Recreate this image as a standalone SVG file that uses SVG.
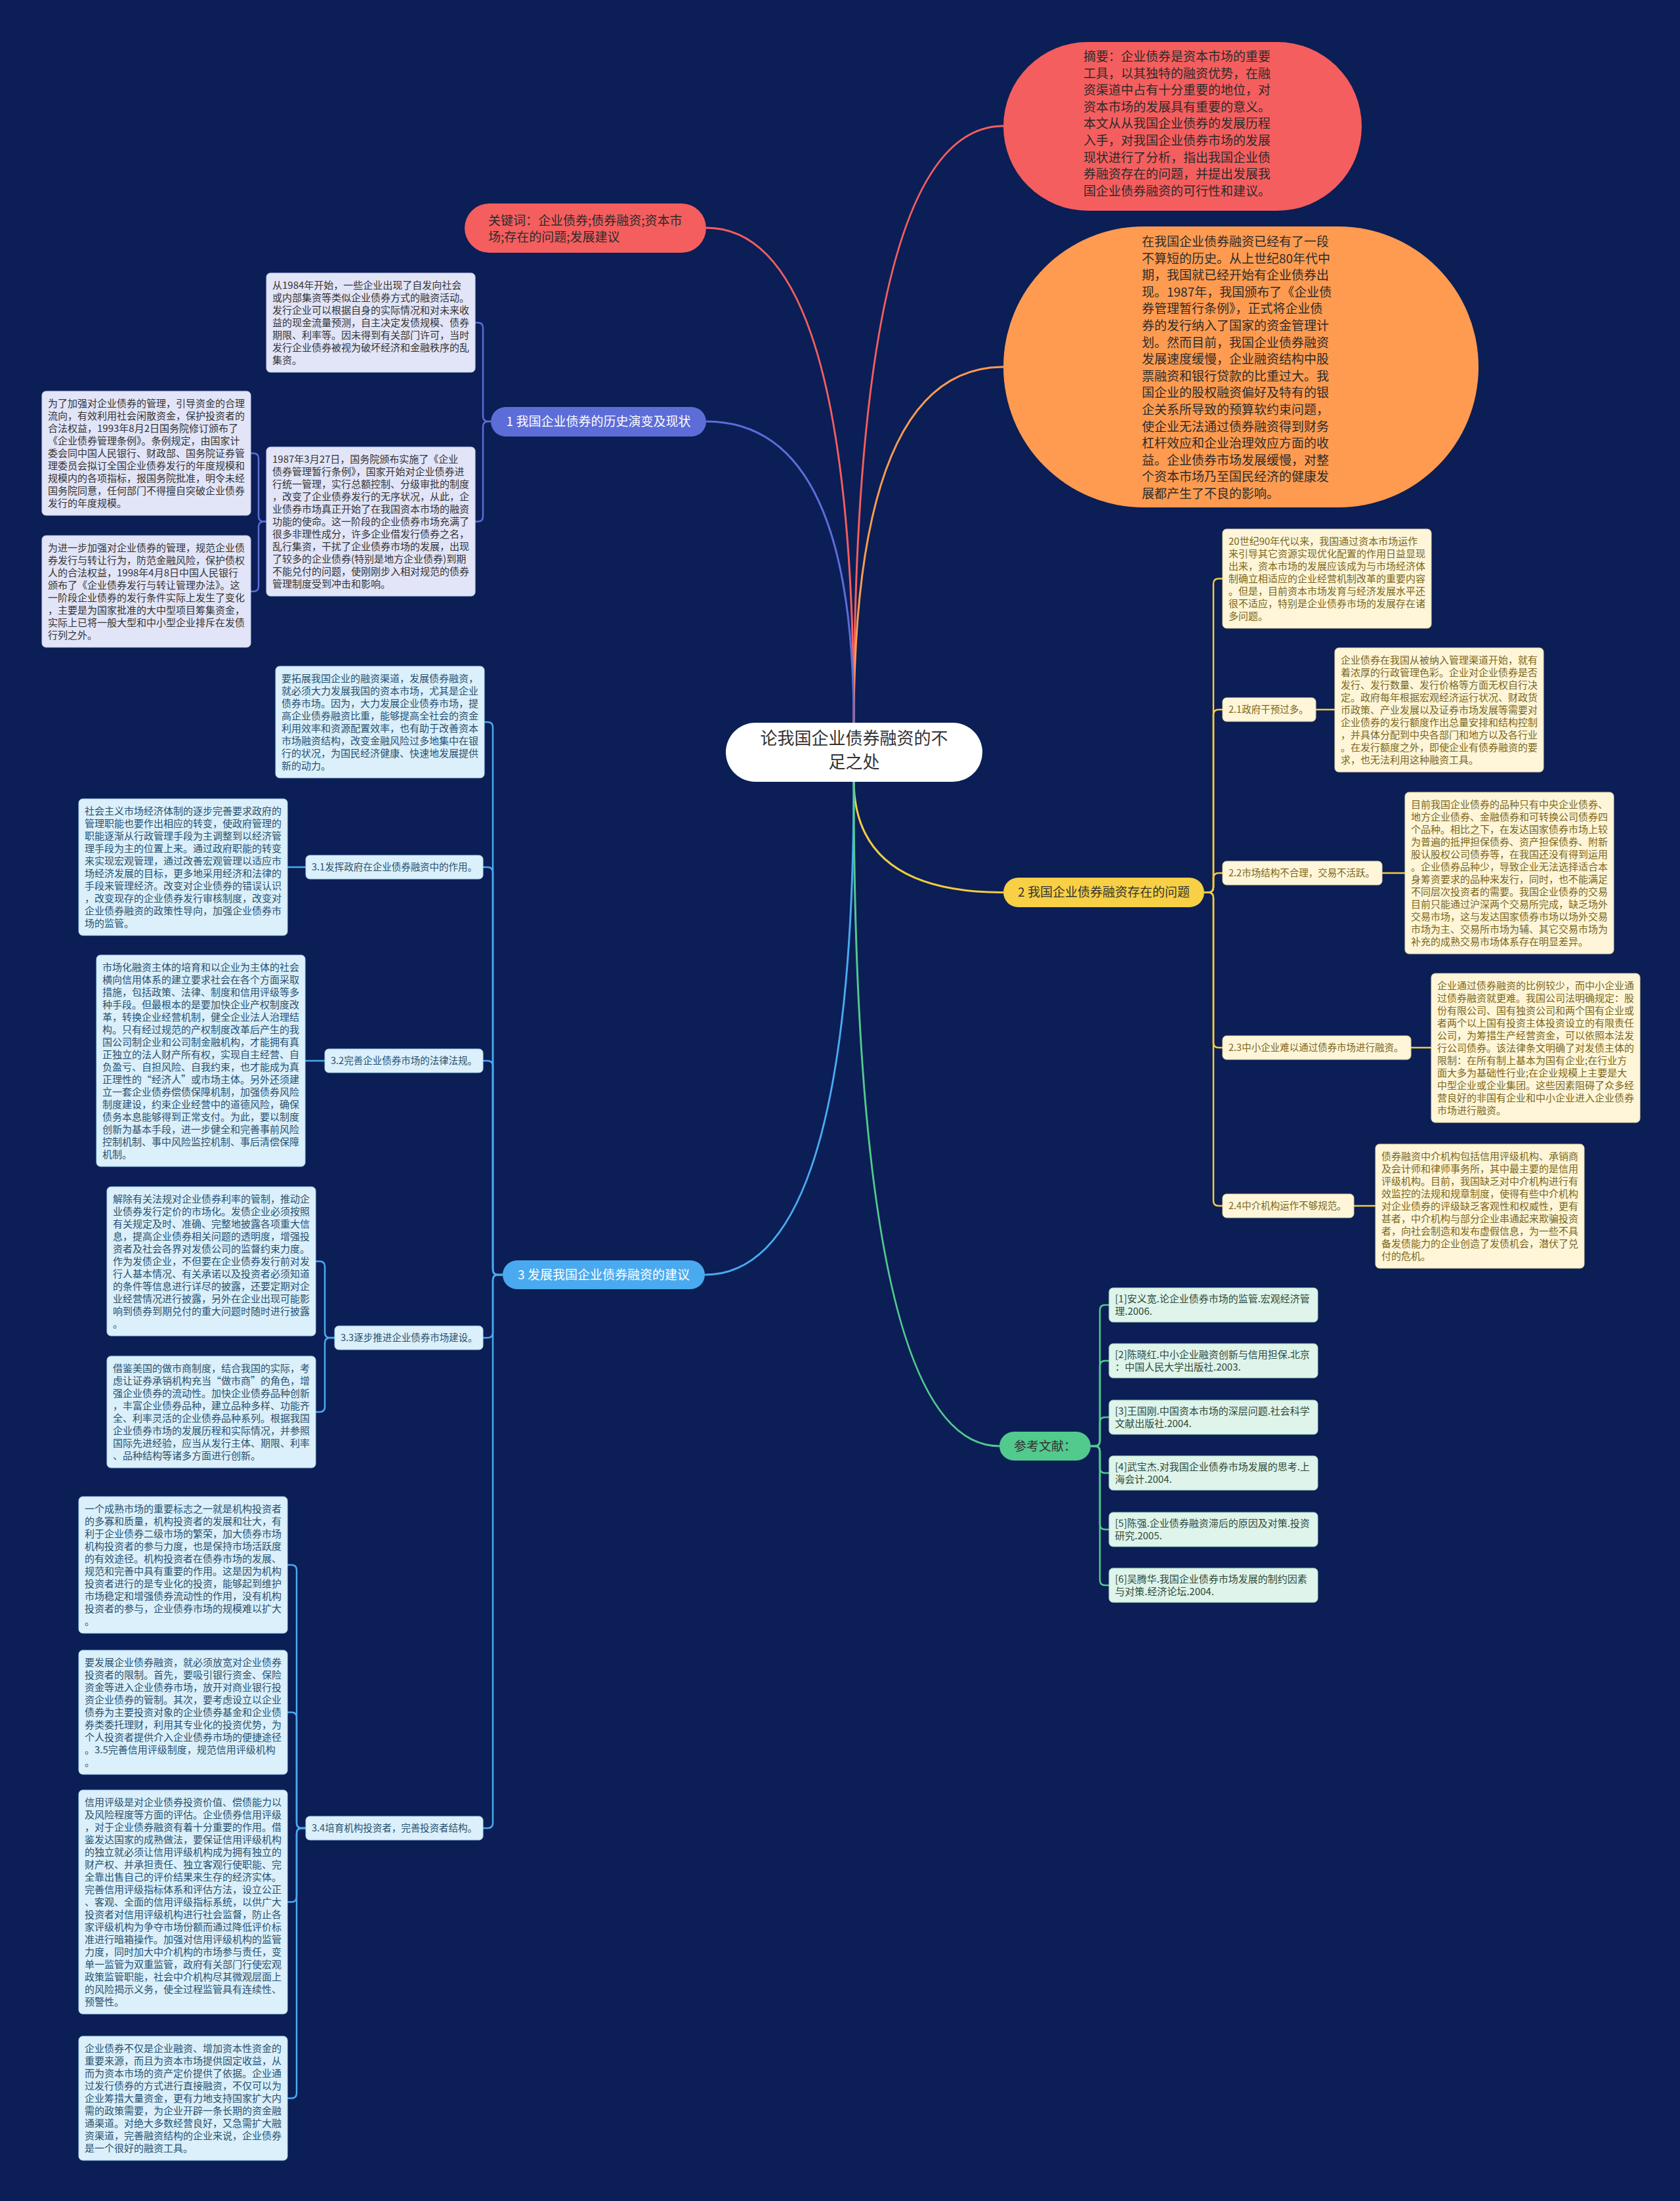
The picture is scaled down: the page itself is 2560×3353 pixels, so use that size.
<svg xmlns="http://www.w3.org/2000/svg" width="2560" height="3353" viewBox="0 0 2560 3353">
<style>
text{font-family:"Noto Sans CJK SC","Noto Sans",sans-serif;}
.main{fill:none;stroke-width:3;}
.sub{fill:none;stroke-width:2.5;}
.n15{font-size:15px;}
.lab{font-size:14.5px;}
.big{font-size:19px;}
.lav rect{fill:#E2E5F8;stroke:#C9CEF0;stroke-width:1;}
.lav text{fill:#333333;}
.yel rect{fill:#FFF6D9;stroke:#E8D9A0;stroke-width:1;}
.yel text{fill:#7A661C;}
.blu rect{fill:#DBF0FB;stroke:#A9D6F2;stroke-width:1;}
.blu text{fill:#28506F;}
.grn rect{fill:#DFF4EA;stroke:#ACDCC3;stroke-width:1;}
.grn text{fill:#2E4A3B;}
</style>
<rect x="0" y="0" width="2560" height="3353" fill="#0B1E56"/>

<g id="connectors">
<path class="main" stroke="#F55E5E" d="M 1301 1104 Q 1301 192 1529 192"/>
<path class="main" stroke="#FF9B50" d="M 1301 1104 Q 1301 559 1529 559"/>
<path class="main" stroke="#F55E5E" d="M 1301 1104 Q 1301 347 1076 347"/>
<path class="main" stroke="#5C6DD8" d="M 1301 1104 Q 1301 642 1076 642"/>
<path class="main" stroke="#F2CB3F" d="M 1301 1188 Q 1301 1359.5 1529 1359.5"/>
<path class="main" stroke="#4AAAF0" d="M 1301 1188 Q 1301 1942 1074 1942"/>
<path class="main" stroke="#52C98D" d="M 1301 1188 Q 1301 2203 1523 2203"/>

<g stroke="#5C6DD8" class="sub">
<path d="M 748 642 H 744 Q 736 642 736 634 V 499.5 Q 736 491.5 728 491.5 H 724"/>
<path d="M 748 642 H 744 Q 736 642 736 650 V 786.5 Q 736 794.5 728 794.5 H 724"/>
<path d="M 406 794.5 H 402 Q 394 794.5 394 786.5 V 698.5 Q 394 690.5 386 690.5 H 382"/>
<path d="M 406 794.5 H 402 Q 394 794.5 394 802.5 V 893 Q 394 901 386 901 H 382"/>
</g>
<g stroke="#F2CB3F" class="sub">
<path d="M 1835 1359.5 H 1841 Q 1849 1359.5 1849 1351.5 V 889.5 Q 1849 881.5 1857 881.5 H 1863"/>
<path d="M 1835 1359.5 H 1841 Q 1849 1359.5 1849 1351.5 V 1089 Q 1849 1081 1857 1081 H 1863"/>
<path d="M 1835 1359.5 H 1841 Q 1849 1359.5 1849 1351.5 V 1338 Q 1849 1330 1857 1330 H 1863"/>
<path d="M 1835 1359.5 H 1841 Q 1849 1359.5 1849 1367.5 V 1588 Q 1849 1596 1857 1596 H 1863"/>
<path d="M 1835 1359.5 H 1841 Q 1849 1359.5 1849 1367.5 V 1829 Q 1849 1837 1857 1837 H 1863"/>
<path d="M 2005 1081 H 2034"/>
<path d="M 2106 1330 H 2141"/>
<path d="M 2150 1596 H 2181"/>
<path d="M 2063 1837 H 2096"/>
</g>
<g stroke="#4AAAF0" class="sub">
<path d="M 766 1942 H 759 Q 751 1942 751 1934 V 1108 Q 751 1100 743 1100 H 738"/>
<path d="M 766 1942 H 759 Q 751 1942 751 1934 V 1329 Q 751 1321 743 1321 H 736"/>
<path d="M 766 1942 H 759 Q 751 1942 751 1934 V 1624 Q 751 1616 743 1616 H 736"/>
<path d="M 766 1942 H 759 Q 751 1942 751 1950 V 2030 Q 751 2038 743 2038 H 736"/>
<path d="M 766 1942 H 759 Q 751 1942 751 1950 V 2777 Q 751 2785 743 2785 H 736"/>
<path d="M 466 1321 H 438"/>
<path d="M 495 1616 H 465"/>
<path d="M 510 2038 H 503 Q 495 2038 495 2030 V 1929.5 Q 495 1921.5 487 1921.5 H 481"/>
<path d="M 510 2038 H 503 Q 495 2038 495 2046 V 2143 Q 495 2151 487 2151 H 481"/>
<path d="M 466 2785 H 460 Q 452 2785 452 2777 V 2392 Q 452 2384 444 2384 H 438"/>
<path d="M 466 2785 H 460 Q 452 2785 452 2777 V 2616.5 Q 452 2608.5 444 2608.5 H 438"/>
<path d="M 466 2785 H 460 Q 452 2785 452 2793 V 2889.5 Q 452 2897.5 444 2897.5 H 438"/>
<path d="M 466 2785 H 460 Q 452 2785 452 2793 V 3188.5 Q 452 3196.5 444 3196.5 H 438"/>
</g>
<g stroke="#52C98D" class="sub">
<path d="M 1662 2203 H 1668 Q 1676 2203 1676 2195 V 1996 Q 1676 1988 1684 1988 H 1690"/>
<path d="M 1662 2203 H 1668 Q 1676 2203 1676 2195 V 2081 Q 1676 2073 1684 2073 H 1690"/>
<path d="M 1662 2203 H 1668 Q 1676 2203 1676 2195 V 2167 Q 1676 2159 1684 2159 H 1690"/>
<path d="M 1662 2203 H 1668 Q 1676 2203 1676 2211 V 2236 Q 1676 2244 1684 2244 H 1690"/>
<path d="M 1662 2203 H 1668 Q 1676 2203 1676 2211 V 2322 Q 1676 2330 1684 2330 H 1690"/>
<path d="M 1662 2203 H 1668 Q 1676 2203 1676 2211 V 2407 Q 1676 2415 1684 2415 H 1690"/>
</g>
</g>

<g id="center">
<rect x="1106" y="1101" width="391" height="90" rx="45" fill="#FFFFFF"/>
<text x="1301.5" y="1134" font-size="26" text-anchor="middle" fill="#333333"><tspan x="1301.5">论我国企业债券融资的不</tspan><tspan x="1301.5" dy="36">足之处</tspan></text>
</g>

<g id="abstract">
<rect x="1529" y="64" width="546" height="257" rx="128.5" fill="#F55E5E"/>
<text class="big" x="1651" y="93" fill="#2B2B2B"><tspan x="1651">摘要：企业债券是资本市场的重要</tspan><tspan x="1651" dy="25.6">工具，以其独特的融资优势，在融</tspan><tspan x="1651" dy="25.6">资渠道中占有十分重要的地位，对</tspan><tspan x="1651" dy="25.6">资本市场的发展具有重要的意义。</tspan><tspan x="1651" dy="25.6">本文从从我国企业债券的发展历程</tspan><tspan x="1651" dy="25.6">入手，对我国企业债券市场的发展</tspan><tspan x="1651" dy="25.6">现状进行了分析，指出我国企业债</tspan><tspan x="1651" dy="25.6">券融资存在的问题，并提出发展我</tspan><tspan x="1651" dy="25.6">国企业债券融资的可行性和建议。</tspan></text>
</g>

<g id="intro">
<rect x="1529" y="345" width="724" height="428" rx="214" fill="#FF9B50"/>
<text class="big" x="1740" y="375" fill="#2B2B2B"><tspan x="1740">在我国企业债券融资已经有了一段</tspan><tspan x="1740" dy="25.6">不算短的历史。从上世纪80年代中</tspan><tspan x="1740" dy="25.6">期，我国就已经开始有企业债券出</tspan><tspan x="1740" dy="25.6">现。1987年，我国颁布了《企业债</tspan><tspan x="1740" dy="25.6">券管理暂行条例》，正式将企业债</tspan><tspan x="1740" dy="25.6">券的发行纳入了国家的资金管理计</tspan><tspan x="1740" dy="25.6">划。然而目前，我国企业债券融资</tspan><tspan x="1740" dy="25.6">发展速度缓慢，企业融资结构中股</tspan><tspan x="1740" dy="25.6">票融资和银行贷款的比重过大。我</tspan><tspan x="1740" dy="25.6">国企业的股权融资偏好及特有的银</tspan><tspan x="1740" dy="25.6">企关系所导致的预算软约束问题，</tspan><tspan x="1740" dy="25.6">使企业无法通过债券融资得到财务</tspan><tspan x="1740" dy="25.6">杠杆效应和企业治理效应方面的收</tspan><tspan x="1740" dy="25.6">益。企业债券市场发展缓慢，对整</tspan><tspan x="1740" dy="25.6">个资本市场乃至国民经济的健康发</tspan><tspan x="1740" dy="25.6">展都产生了不良的影响。</tspan></text>
</g>

<g id="keywords">
<rect x="708" y="310" width="368" height="75" rx="37.5" fill="#F55E5E"/>
<text class="big" x="744" y="343" fill="#2B2B2B"><tspan x="744">关键词：企业债券;债券融资;资本市</tspan><tspan x="744" dy="25">场;存在的问题;发展建议</tspan></text>
</g>

<g id="topic1">
<rect x="748" y="620" width="328" height="45" rx="22.5" fill="#5C6DD8"/>
<text class="big" x="912" y="649" text-anchor="middle" fill="#FFFFFF">1 我国企业债券的历史演变及现状</text>
</g>
<g id="t1-a" class="lav" transform="translate(406,416)">
<rect width="318" height="151" rx="6"/>
<text class="n15" x="9" y="24"><tspan x="9">从1984年开始，一些企业出现了自发向社会</tspan><tspan x="9" dy="19">或内部集资等类似企业债券方式的融资活动。</tspan><tspan x="9" dy="19">发行企业可以根据自身的实际情况和对未来收</tspan><tspan x="9" dy="19">益的现金流量预测，自主决定发债规模、债券</tspan><tspan x="9" dy="19">期限、利率等。因未得到有关部门许可，当时</tspan><tspan x="9" dy="19">发行企业债券被视为破坏经济和金融秩序的乱</tspan><tspan x="9" dy="19">集资。</tspan></text>
</g>
<g id="t1-b" class="lav" transform="translate(406,681)">
<rect width="318" height="227" rx="6"/>
<text class="n15" x="9" y="24"><tspan x="9">1987年3月27日，国务院颁布实施了《企业</tspan><tspan x="9" dy="19">债券管理暂行条例》，国家开始对企业债券进</tspan><tspan x="9" dy="19">行统一管理，实行总额控制、分级审批的制度</tspan><tspan x="9" dy="19">，改变了企业债券发行的无序状况，从此，企</tspan><tspan x="9" dy="19">业债券市场真正开始了在我国资本市场的融资</tspan><tspan x="9" dy="19">功能的使命。这一阶段的企业债券市场充满了</tspan><tspan x="9" dy="19">很多非理性成分，许多企业借发行债券之名，</tspan><tspan x="9" dy="19">乱行集资，干扰了企业债券市场的发展，出现</tspan><tspan x="9" dy="19">了较多的企业债券(特别是地方企业债券)到期</tspan><tspan x="9" dy="19">不能兑付的问题，使刚刚步入相对规范的债券</tspan><tspan x="9" dy="19">管理制度受到冲击和影响。</tspan></text>
</g>
<g id="t1-c" class="lav" transform="translate(64,596)">
<rect width="318" height="189" rx="6"/>
<text class="n15" x="9" y="24"><tspan x="9">为了加强对企业债券的管理，引导资金的合理</tspan><tspan x="9" dy="19">流向，有效利用社会闲散资金，保护投资者的</tspan><tspan x="9" dy="19">合法权益，1993年8月2日国务院修订颁布了</tspan><tspan x="9" dy="19">《企业债券管理条例》。条例规定，由国家计</tspan><tspan x="9" dy="19">委会同中国人民银行、财政部、国务院证券管</tspan><tspan x="9" dy="19">理委员会拟订全国企业债券发行的年度规模和</tspan><tspan x="9" dy="19">规模内的各项指标，报国务院批准，明令未经</tspan><tspan x="9" dy="19">国务院同意，任何部门不得擅自突破企业债券</tspan><tspan x="9" dy="19">发行的年度规模。</tspan></text>
</g>
<g id="t1-d" class="lav" transform="translate(64,816)">
<rect width="318" height="170" rx="6"/>
<text class="n15" x="9" y="24"><tspan x="9">为进一步加强对企业债券的管理，规范企业债</tspan><tspan x="9" dy="19">券发行与转让行为，防范金融风险，保护债权</tspan><tspan x="9" dy="19">人的合法权益，1998年4月8日中国人民银行</tspan><tspan x="9" dy="19">颁布了《企业债券发行与转让管理办法》。这</tspan><tspan x="9" dy="19">一阶段企业债券的发行条件实际上发生了变化</tspan><tspan x="9" dy="19">，主要是为国家批准的大中型项目筹集资金，</tspan><tspan x="9" dy="19">实际上已将一般大型和中小型企业排斥在发债</tspan><tspan x="9" dy="19">行列之外。</tspan></text>
</g>

<g id="topic2">
<rect x="1529" y="1337" width="306" height="45" rx="22.5" fill="#F7D046"/>
<text class="big" x="1682" y="1366" text-anchor="middle" fill="#333333">2 我国企业债券融资存在的问题</text>
</g>
<g id="t2-intro" class="yel" transform="translate(1863,806)">
<rect width="318" height="151" rx="6"/>
<text class="n15" x="9" y="24"><tspan x="9">20世纪90年代以来，我国通过资本市场运作</tspan><tspan x="9" dy="19">来引导其它资源实现优化配置的作用日益显现</tspan><tspan x="9" dy="19">出来，资本市场的发展应该成为与市场经济体</tspan><tspan x="9" dy="19">制确立相适应的企业经营机制改革的重要内容</tspan><tspan x="9" dy="19">。但是，目前资本市场发育与经济发展水平还</tspan><tspan x="9" dy="19">很不适应，特别是企业债券市场的发展存在诸</tspan><tspan x="9" dy="19">多问题。</tspan></text>
</g>
<g id="t2-1" class="yel" transform="translate(1863,1063)">
<rect width="142" height="36" rx="6"/>
<text class="lab" x="9" y="23">2.1政府干预过多。</text>
</g>
<g id="t2-1-note" class="yel" transform="translate(2034,987)">
<rect width="318" height="189" rx="6"/>
<text class="n15" x="9" y="24"><tspan x="9">企业债券在我国从被纳入管理渠道开始，就有</tspan><tspan x="9" dy="19">着浓厚的行政管理色彩。企业对企业债券是否</tspan><tspan x="9" dy="19">发行、发行数量、发行价格等方面无权自行决</tspan><tspan x="9" dy="19">定。政府每年根据宏观经济运行状况、财政货</tspan><tspan x="9" dy="19">币政策、产业发展以及证券市场发展等需要对</tspan><tspan x="9" dy="19">企业债券的发行额度作出总量安排和结构控制</tspan><tspan x="9" dy="19">，并具体分配到中央各部门和地方以及各行业</tspan><tspan x="9" dy="19">。在发行额度之外，即使企业有债券融资的要</tspan><tspan x="9" dy="19">求，也无法利用这种融资工具。</tspan></text>
</g>
<g id="t2-2" class="yel" transform="translate(1863,1312)">
<rect width="243" height="36" rx="6"/>
<text class="lab" x="9" y="23">2.2市场结构不合理，交易不活跃。</text>
</g>
<g id="t2-2-note" class="yel" transform="translate(2141,1207)">
<rect width="318" height="246" rx="6"/>
<text class="n15" x="9" y="24"><tspan x="9">目前我国企业债券的品种只有中央企业债券、</tspan><tspan x="9" dy="19">地方企业债券、金融债券和可转换公司债券四</tspan><tspan x="9" dy="19">个品种。相比之下，在发达国家债券市场上较</tspan><tspan x="9" dy="19">为普遍的抵押担保债券、资产担保债券、附新</tspan><tspan x="9" dy="19">股认股权公司债券等，在我国还没有得到运用</tspan><tspan x="9" dy="19">。企业债券品种少，导致企业无法选择适合本</tspan><tspan x="9" dy="19">身筹资要求的品种来发行，同时，也不能满足</tspan><tspan x="9" dy="19">不同层次投资者的需要。我国企业债券的交易</tspan><tspan x="9" dy="19">目前只能通过沪深两个交易所完成，缺乏场外</tspan><tspan x="9" dy="19">交易市场，这与发达国家债券市场以场外交易</tspan><tspan x="9" dy="19">市场为主、交易所市场为辅、其它交易市场为</tspan><tspan x="9" dy="19">补充的成熟交易市场体系存在明显差异。</tspan></text>
</g>
<g id="t2-3" class="yel" transform="translate(1863,1578)">
<rect width="287" height="36" rx="6"/>
<text class="lab" x="9" y="23">2.3中小企业难以通过债券市场进行融资。</text>
</g>
<g id="t2-3-note" class="yel" transform="translate(2181,1483)">
<rect width="318" height="227" rx="6"/>
<text class="n15" x="9" y="24"><tspan x="9">企业通过债券融资的比例较少，而中小企业通</tspan><tspan x="9" dy="19">过债券融资就更难。我国公司法明确规定：股</tspan><tspan x="9" dy="19">份有限公司、国有独资公司和两个国有企业或</tspan><tspan x="9" dy="19">者两个以上国有投资主体投资设立的有限责任</tspan><tspan x="9" dy="19">公司，为筹措生产经营资金，可以依照本法发</tspan><tspan x="9" dy="19">行公司债券。该法律条文明确了对发债主体的</tspan><tspan x="9" dy="19">限制：在所有制上基本为国有企业;在行业方</tspan><tspan x="9" dy="19">面大多为基础性行业;在企业规模上主要是大</tspan><tspan x="9" dy="19">中型企业或企业集团。这些因素阻碍了众多经</tspan><tspan x="9" dy="19">营良好的非国有企业和中小企业进入企业债券</tspan><tspan x="9" dy="19">市场进行融资。</tspan></text>
</g>
<g id="t2-4" class="yel" transform="translate(1863,1819)">
<rect width="200" height="36" rx="6"/>
<text class="lab" x="9" y="23">2.4中介机构运作不够规范。</text>
</g>
<g id="t2-4-note" class="yel" transform="translate(2096,1743)">
<rect width="318" height="189" rx="6"/>
<text class="n15" x="9" y="24"><tspan x="9">债券融资中介机构包括信用评级机构、承销商</tspan><tspan x="9" dy="19">及会计师和律师事务所，其中最主要的是信用</tspan><tspan x="9" dy="19">评级机构。目前，我国缺乏对中介机构进行有</tspan><tspan x="9" dy="19">效监控的法规和规章制度，使得有些中介机构</tspan><tspan x="9" dy="19">对企业债券的评级缺乏客观性和权威性，更有</tspan><tspan x="9" dy="19">甚者，中介机构与部分企业串通起来欺骗投资</tspan><tspan x="9" dy="19">者，向社会制造和发布虚假信息，为一些不具</tspan><tspan x="9" dy="19">备发债能力的企业创造了发债机会，潜伏了兑</tspan><tspan x="9" dy="19">付的危机。</tspan></text>
</g>

<g id="topic3">
<rect x="766" y="1920" width="308" height="44" rx="22" fill="#4AAAF0"/>
<text class="big" x="920" y="1949" text-anchor="middle" fill="#FFFFFF">3 发展我国企业债券融资的建议</text>
</g>
<g id="t3-intro" class="blu" transform="translate(420,1015)">
<rect width="318" height="170" rx="6"/>
<text class="n15" x="9" y="24"><tspan x="9">要拓展我国企业的融资渠道，发展债券融资，</tspan><tspan x="9" dy="19">就必须大力发展我国的资本市场，尤其是企业</tspan><tspan x="9" dy="19">债券市场。因为，大力发展企业债券市场，提</tspan><tspan x="9" dy="19">高企业债券融资比重，能够提高全社会的资金</tspan><tspan x="9" dy="19">利用效率和资源配置效率，也有助于改善资本</tspan><tspan x="9" dy="19">市场融资结构，改变金融风险过多地集中在银</tspan><tspan x="9" dy="19">行的状况，为国民经济健康、快速地发展提供</tspan><tspan x="9" dy="19">新的动力。</tspan></text>
</g>
<g id="t3-1" class="blu" transform="translate(466,1303)">
<rect width="270" height="36" rx="6"/>
<text class="lab" x="9" y="23">3.1发挥政府在企业债券融资中的作用。</text>
</g>
<g id="t3-1-note" class="blu" transform="translate(120,1217)">
<rect width="318" height="208" rx="6"/>
<text class="n15" x="9" y="24"><tspan x="9">社会主义市场经济体制的逐步完善要求政府的</tspan><tspan x="9" dy="19">管理职能也要作出相应的转变，使政府管理的</tspan><tspan x="9" dy="19">职能逐渐从行政管理手段为主调整到以经济管</tspan><tspan x="9" dy="19">理手段为主的位置上来。通过政府职能的转变</tspan><tspan x="9" dy="19">来实现宏观管理，通过改善宏观管理以适应市</tspan><tspan x="9" dy="19">场经济发展的目标，更多地采用经济和法律的</tspan><tspan x="9" dy="19">手段来管理经济。改变对企业债券的错误认识</tspan><tspan x="9" dy="19">，改变现存的企业债券发行审核制度，改变对</tspan><tspan x="9" dy="19">企业债券融资的政策性导向，加强企业债券市</tspan><tspan x="9" dy="19">场的监管。</tspan></text>
</g>
<g id="t3-2" class="blu" transform="translate(495,1598)">
<rect width="241" height="36" rx="6"/>
<text class="lab" x="9" y="23">3.2完善企业债券市场的法律法规。</text>
</g>
<g id="t3-2-note" class="blu" transform="translate(147,1455)">
<rect width="318" height="322" rx="6"/>
<text class="n15" x="9" y="24"><tspan x="9">市场化融资主体的培育和以企业为主体的社会</tspan><tspan x="9" dy="19">横向信用体系的建立要求社会在各个方面采取</tspan><tspan x="9" dy="19">措施，包括政策、法律、制度和信用评级等多</tspan><tspan x="9" dy="19">种手段。但最根本的是要加快企业产权制度改</tspan><tspan x="9" dy="19">革，转换企业经营机制，健全企业法人治理结</tspan><tspan x="9" dy="19">构。只有经过规范的产权制度改革后产生的我</tspan><tspan x="9" dy="19">国公司制企业和公司制金融机构，才能拥有真</tspan><tspan x="9" dy="19">正独立的法人财产所有权，实现自主经营、自</tspan><tspan x="9" dy="19">负盈亏、自担风险、自我约束，也才能成为真</tspan><tspan x="9" dy="19">正理性的“经济人”或市场主体。另外还须建</tspan><tspan x="9" dy="19">立一套企业债券偿债保障机制，加强债券风险</tspan><tspan x="9" dy="19">制度建设，约束企业经营中的道德风险，确保</tspan><tspan x="9" dy="19">债务本息能够得到正常支付。为此，要以制度</tspan><tspan x="9" dy="19">创新为基本手段，进一步健全和完善事前风险</tspan><tspan x="9" dy="19">控制机制、事中风险监控机制、事后清偿保障</tspan><tspan x="9" dy="19">机制。</tspan></text>
</g>
<g id="t3-3" class="blu" transform="translate(510,2020)">
<rect width="226" height="36" rx="6"/>
<text class="lab" x="9" y="23">3.3逐步推进企业债券市场建设。</text>
</g>
<g id="t3-3-a" class="blu" transform="translate(163,1808)">
<rect width="318" height="227" rx="6"/>
<text class="n15" x="9" y="24"><tspan x="9">解除有关法规对企业债券利率的管制，推动企</tspan><tspan x="9" dy="19">业债券发行定价的市场化。发债企业必须按照</tspan><tspan x="9" dy="19">有关规定及时、准确、完整地披露各项重大信</tspan><tspan x="9" dy="19">息，提高企业债券相关问题的透明度，增强投</tspan><tspan x="9" dy="19">资者及社会各界对发债公司的监督约束力度。</tspan><tspan x="9" dy="19">作为发债企业，不但要在企业债券发行前对发</tspan><tspan x="9" dy="19">行人基本情况、有关承诺以及投资者必须知道</tspan><tspan x="9" dy="19">的条件等信息进行详尽的披露，还要定期对企</tspan><tspan x="9" dy="19">业经营情况进行披露，另外在企业出现可能影</tspan><tspan x="9" dy="19">响到债券到期兑付的重大问题时随时进行披露</tspan><tspan x="9" dy="19">。</tspan></text>
</g>
<g id="t3-3-b" class="blu" transform="translate(163,2066)">
<rect width="318" height="170" rx="6"/>
<text class="n15" x="9" y="24"><tspan x="9">借鉴美国的做市商制度，结合我国的实际，考</tspan><tspan x="9" dy="19">虑让证券承销机构充当“做市商”的角色，增</tspan><tspan x="9" dy="19">强企业债券的流动性。加快企业债券品种创新</tspan><tspan x="9" dy="19">，丰富企业债券品种，建立品种多样、功能齐</tspan><tspan x="9" dy="19">全、利率灵活的企业债券品种系列。根据我国</tspan><tspan x="9" dy="19">企业债券市场的发展历程和实际情况，并参照</tspan><tspan x="9" dy="19">国际先进经验，应当从发行主体、期限、利率</tspan><tspan x="9" dy="19">、品种结构等诸多方面进行创新。</tspan></text>
</g>
<g id="t3-4" class="blu" transform="translate(466,2767)">
<rect width="270" height="36" rx="6"/>
<text class="lab" x="9" y="23">3.4培育机构投资者，完善投资者结构。</text>
</g>
<g id="t3-4-a" class="blu" transform="translate(120,2280)">
<rect width="318" height="208" rx="6"/>
<text class="n15" x="9" y="24"><tspan x="9">一个成熟市场的重要标志之一就是机构投资者</tspan><tspan x="9" dy="19">的多寡和质量，机构投资者的发展和壮大，有</tspan><tspan x="9" dy="19">利于企业债券二级市场的繁荣，加大债券市场</tspan><tspan x="9" dy="19">机构投资者的参与力度，也是保持市场活跃度</tspan><tspan x="9" dy="19">的有效途径。机构投资者在债券市场的发展、</tspan><tspan x="9" dy="19">规范和完善中具有重要的作用。这是因为机构</tspan><tspan x="9" dy="19">投资者进行的是专业化的投资，能够起到维护</tspan><tspan x="9" dy="19">市场稳定和增强债券流动性的作用，没有机构</tspan><tspan x="9" dy="19">投资者的参与，企业债券市场的规模难以扩大</tspan><tspan x="9" dy="19">。</tspan></text>
</g>
<g id="t3-4-b" class="blu" transform="translate(120,2514)">
<rect width="318" height="189" rx="6"/>
<text class="n15" x="9" y="24"><tspan x="9">要发展企业债券融资，就必须放宽对企业债券</tspan><tspan x="9" dy="19">投资者的限制。首先，要吸引银行资金、保险</tspan><tspan x="9" dy="19">资金等进入企业债券市场，放开对商业银行投</tspan><tspan x="9" dy="19">资企业债券的管制。其次，要考虑设立以企业</tspan><tspan x="9" dy="19">债券为主要投资对象的企业债券基金和企业债</tspan><tspan x="9" dy="19">券类委托理财，利用其专业化的投资优势，为</tspan><tspan x="9" dy="19">个人投资者提供介入企业债券市场的便捷途径</tspan><tspan x="9" dy="19">。3.5完善信用评级制度，规范信用评级机构</tspan><tspan x="9" dy="19">。</tspan></text>
</g>
<g id="t3-4-c" class="blu" transform="translate(120,2727)">
<rect width="318" height="341" rx="6"/>
<text class="n15" x="9" y="24"><tspan x="9">信用评级是对企业债券投资价值、偿债能力以</tspan><tspan x="9" dy="19">及风险程度等方面的评估。企业债券信用评级</tspan><tspan x="9" dy="19">，对于企业债券融资有着十分重要的作用。借</tspan><tspan x="9" dy="19">鉴发达国家的成熟做法，要保证信用评级机构</tspan><tspan x="9" dy="19">的独立就必须让信用评级机构成为拥有独立的</tspan><tspan x="9" dy="19">财产权、并承担责任、独立客观行使职能、完</tspan><tspan x="9" dy="19">全靠出售自己的评价结果来生存的经济实体。</tspan><tspan x="9" dy="19">完善信用评级指标体系和评估方法，设立公正</tspan><tspan x="9" dy="19">、客观、全面的信用评级指标系统，以供广大</tspan><tspan x="9" dy="19">投资者对信用评级机构进行社会监督，防止各</tspan><tspan x="9" dy="19">家评级机构为争夺市场份额而通过降低评价标</tspan><tspan x="9" dy="19">准进行暗箱操作。加强对信用评级机构的监管</tspan><tspan x="9" dy="19">力度，同时加大中介机构的市场参与责任，变</tspan><tspan x="9" dy="19">单一监管为双重监管，政府有关部门行使宏观</tspan><tspan x="9" dy="19">政策监管职能，社会中介机构尽其微观层面上</tspan><tspan x="9" dy="19">的风险揭示义务，使全过程监管具有连续性、</tspan><tspan x="9" dy="19">预警性。</tspan></text>
</g>
<g id="t3-4-d" class="blu" transform="translate(120,3102)">
<rect width="318" height="189" rx="6"/>
<text class="n15" x="9" y="24"><tspan x="9">企业债券不仅是企业融资、增加资本性资金的</tspan><tspan x="9" dy="19">重要来源，而且为资本市场提供固定收益，从</tspan><tspan x="9" dy="19">而为资本市场的资产定价提供了依据。企业通</tspan><tspan x="9" dy="19">过发行债券的方式进行直接融资，不仅可以为</tspan><tspan x="9" dy="19">企业筹措大量资金，更有力地支持国家扩大内</tspan><tspan x="9" dy="19">需的政策需要，为企业开辟一条长期的资金融</tspan><tspan x="9" dy="19">通渠道。对绝大多数经营良好，又急需扩大融</tspan><tspan x="9" dy="19">资渠道，完善融资结构的企业来说，企业债券</tspan><tspan x="9" dy="19">是一个很好的融资工具。</tspan></text>
</g>

<g id="references">
<rect x="1523" y="2181" width="139" height="44" rx="22" fill="#52C98D"/>
<text class="big" x="1592.5" y="2210" text-anchor="middle" fill="#333333">参考文献：</text>
</g>
<g id="ref-1" class="grn" transform="translate(1690,1962)">
<rect width="318" height="52" rx="6"/>
<text class="n15" x="9" y="22"><tspan x="9">[1]安义宽.论企业债券市场的监管.宏观经济管</tspan><tspan x="9" dy="19">理.2006.</tspan></text>
</g>
<g id="ref-2" class="grn" transform="translate(1690,2047)">
<rect width="318" height="52" rx="6"/>
<text class="n15" x="9" y="22"><tspan x="9">[2]陈晓红.中小企业融资创新与信用担保.北京</tspan><tspan x="9" dy="19">：中国人民大学出版社.2003.</tspan></text>
</g>
<g id="ref-3" class="grn" transform="translate(1690,2133)">
<rect width="318" height="52" rx="6"/>
<text class="n15" x="9" y="22"><tspan x="9">[3]王国刚.中国资本市场的深层问题.社会科学</tspan><tspan x="9" dy="19">文献出版社.2004.</tspan></text>
</g>
<g id="ref-4" class="grn" transform="translate(1690,2218)">
<rect width="318" height="52" rx="6"/>
<text class="n15" x="9" y="22"><tspan x="9">[4]武宝杰.对我国企业债券市场发展的思考.上</tspan><tspan x="9" dy="19">海会计.2004.</tspan></text>
</g>
<g id="ref-5" class="grn" transform="translate(1690,2304)">
<rect width="318" height="52" rx="6"/>
<text class="n15" x="9" y="22"><tspan x="9">[5]陈强.企业债券融资滞后的原因及对策.投资</tspan><tspan x="9" dy="19">研究.2005.</tspan></text>
</g>
<g id="ref-6" class="grn" transform="translate(1690,2389)">
<rect width="318" height="52" rx="6"/>
<text class="n15" x="9" y="22"><tspan x="9">[6]吴腾华.我国企业债券市场发展的制约因素</tspan><tspan x="9" dy="19">与对策.经济论坛.2004.</tspan></text>
</g>
</svg>
